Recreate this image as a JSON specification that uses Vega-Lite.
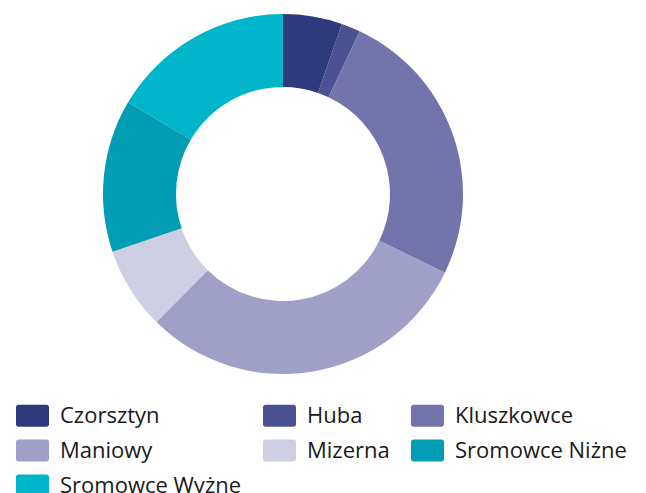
{
  "$schema": "https://vega.github.io/schema/vega-lite/v6.json",
  "width": 566,
  "height": 388,
  "padding": 0,
  "background": "#ffffff",
  "data": {
    "values": [
      {"miejscowosc": "Czorsztyn", "udzial": 5.3},
      {"miejscowosc": "Huba", "udzial": 1.7},
      {"miejscowosc": "Kluszkowce", "udzial": 25.2},
      {"miejscowosc": "Maniowy", "udzial": 30.2},
      {"miejscowosc": "Mizerna", "udzial": 7.4},
      {"miejscowosc": "Sromowce Niżne", "udzial": 13.7},
      {"miejscowosc": "Sromowce Wyżne", "udzial": 16.5}
    ]
  },
  "mark": {"type": "arc", "outerRadius": 180, "innerRadius": 107},
  "encoding": {
    "theta": {"field": "udzial", "type": "quantitative", "stack": true},
    "color": {
      "field": "miejscowosc",
      "type": "nominal",
      "scale": {
        "domain": ["Czorsztyn", "Huba", "Kluszkowce", "Maniowy", "Mizerna", "Sromowce Niżne", "Sromowce Wyżne"],
        "range": ["#2d3a7c", "#4c5191", "#7474ac", "#a09fc8", "#cfcfe4", "#029db4", "#00b4c9"]
      },
      "legend": {
        "title": null,
        "orient": "none",
        "legendX": 16,
        "legendY": 399,
        "columns": 3,
        "direction": "horizontal",
        "symbolType": "M-0.85,-0.67H0.85A0.15,0.15 0 0 1 1,-0.52V0.52A0.15,0.15 0 0 1 0.85,0.67H-0.85A0.15,0.15 0 0 1 -1,0.52V-0.52A0.15,0.15 0 0 1 -0.85,-0.67Z",
        "symbolSize": 1089,
        "symbolStrokeWidth": 0,
        "symbolOpacity": 1,
        "labelFont": "Open Sans",
        "labelFontSize": 22,
        "labelColor": "#1a1a1a",
        "labelOffset": 11,
        "labelLimit": 300,
        "columnPadding": 21,
        "rowPadding": 7
      }
    }
  },
  "config": {"view": {"stroke": null}}
}
